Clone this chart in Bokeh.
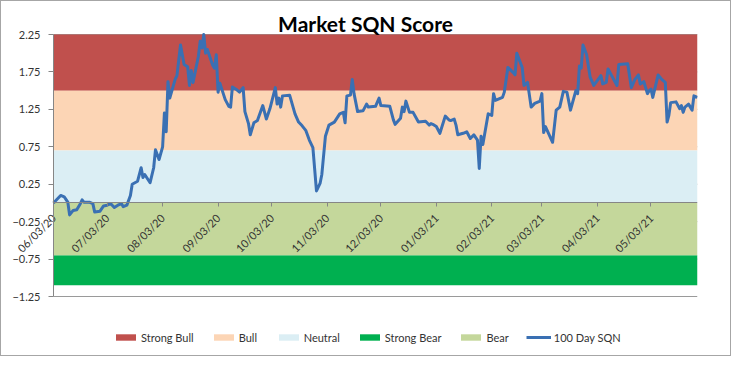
import pandas as pd
from bokeh.plotting import figure
from bokeh.layouts import column
from bokeh.models import (Range1d, FixedTicker, DatetimeTickFormatter, Legend, LegendItem, Label)
from bokeh.embed import file_html
from bokeh.resources import INLINE

# ---------------- data ----------------
title_text = "Market SQN Score"
start_date = "2020-06-03"
end_date = "2021-05-29"

# days after start_date of each reading of the 100 Day SQN
day_offset = [0, 4, 6, 8, 9, 11, 13, 15, 16, 17, 20, 22, 23, 26, 28, 30, 32, 34, 36, 38,
              39, 41, 43, 44, 47, 49, 50, 51, 54, 56, 57, 59, 61, 62, 63, 64, 65, 68, 69, 71,
              73, 75, 76, 77, 78, 81, 82, 83, 84, 85, 86, 89, 90, 91, 92, 93, 96, 98, 99, 100,
              102, 104, 106, 107, 109, 110, 112, 114, 117, 119, 121, 124, 125, 126, 127, 128, 132, 135, 137, 139,
              141, 143, 145, 147, 149, 150, 152, 154, 157, 160, 162, 163, 164, 166, 167, 168, 170, 173, 175, 176,
              180, 182, 183, 188, 190, 191, 194, 195, 196, 197, 199, 201, 204, 208, 210, 211, 212, 214, 216, 219,
              221, 222, 224, 225, 226, 229, 231, 233, 235, 237, 238, 239, 240, 243, 245, 246, 247, 251, 252, 254,
              257, 258, 259, 262, 263, 265, 267, 269, 272, 273, 274, 275, 279, 281, 283, 285, 287, 289, 292, 293,
              294, 295, 296, 298, 300, 302, 306, 307, 309, 310, 312, 315, 316, 321, 322, 323, 325, 327, 328, 330,
              332, 333, 334, 335, 338, 340, 342, 343, 344, 345, 348, 350, 351, 352, 353, 355, 357, 358, 360]

sqn = [0.00, 0.10, 0.08, 0.01, -0.16, -0.10, -0.09, -0.01, 0.04, 0.01, 0.01, -0.01, -0.12, -0.11, -0.04, -0.03, -0.01, -0.06, -0.03, -0.01,
       -0.05, -0.03, 0.10, 0.25, 0.29, 0.47, 0.34, 0.38, 0.27, 0.47, 0.71, 0.58, 0.75, 1.20, 0.95, 1.62, 1.40, 1.65, 1.70, 2.11,
       1.85, 1.82, 1.57, 1.77, 1.61, 1.96, 2.16, 2.07, 2.25, 2.00, 2.05, 1.84, 1.80, 1.98, 1.48, 1.60, 1.38, 1.29, 1.28, 1.55,
       1.52, 1.48, 1.54, 1.22, 1.06, 0.91, 1.07, 1.10, 1.30, 1.12, 1.26, 1.54, 1.32, 1.40, 1.28, 1.43, 1.44, 1.19, 1.08, 1.03,
       0.97, 0.84, 0.74, 0.16, 0.26, 0.38, 0.89, 1.04, 1.08, 1.19, 1.21, 1.07, 1.43, 1.44, 1.65, 1.46, 1.22, 1.23, 1.32, 1.28,
       1.29, 1.40, 1.30, 1.29, 1.11, 1.05, 1.13, 1.28, 1.22, 1.36, 1.21, 1.21, 1.08, 1.09, 1.04, 1.06, 1.05, 1.02, 0.93, 1.16,
       1.11, 1.10, 1.12, 1.04, 0.91, 0.93, 0.95, 0.86, 0.91, 0.84, 0.46, 0.89, 0.78, 1.19, 1.17, 1.46, 1.37, 1.41, 1.48, 1.81,
       1.74, 1.71, 2.00, 1.81, 1.57, 1.61, 1.28, 1.33, 1.36, 1.46, 0.94, 1.02, 0.81, 1.24, 1.28, 1.49, 1.48, 1.24, 1.50, 1.46,
       1.83, 1.80, 2.11, 1.98, 1.68, 1.57, 1.70, 1.59, 1.61, 1.79, 1.70, 1.57, 1.85, 1.86, 1.70, 1.54, 1.65, 1.71, 1.59, 1.62,
       1.46, 1.50, 1.52, 1.41, 1.71, 1.65, 1.61, 1.08, 1.17, 1.34, 1.35, 1.26, 1.30, 1.21, 1.28, 1.32, 1.24, 1.43, 1.41]

band_names = ["Strong Bull", "Bull", "Neutral", "Strong Bear", "Bear"]
band_low = [1.5, 0.7, 0.0, -1.1, -0.7]
band_high = [2.25, 1.5, 0.7, -0.7, 0.0]
line_name = "100 Day SQN"

tick_labels = ["06/03/20", "07/03/20", "08/03/20", "09/03/20", "10/03/20", "11/03/20",
               "12/03/20", "01/03/21", "02/03/21", "03/03/21", "04/03/21", "05/03/21"]
y_ticks = [-1.25, -0.75, -0.25, 0.25, 0.75, 1.25, 1.75, 2.25]
y_min, y_max = -1.25, 2.25

# ---------------- styles / layout ----------------
band_colors = ["#C0504D", "#FCD5B5", "#DBEEF4", "#00B050", "#C4D79B"]
line_color = "#3A70B3"
axis_color = "#868686"
font = "Lato"

W, H_MAIN, H_LEG = 729, 310, 44
BORDER_RIGHT = 33
FRAME_W = W - BORDER_RIGHT
PLOT_LEFT_PX = 52             # where the plot area starts inside the frame
PLOT_TOP_PX, PLOT_BOTTOM_PX = 33, 15

start = pd.Timestamp(start_date)
end = pd.Timestamp(end_date)
dates = [start + pd.Timedelta(days=d) for d in day_offset]
x_edges = [start, end]
tick_ms = [pd.to_datetime(t, format="%m/%d/%y").value // 10**6 for t in tick_labels]
start_ms, end_ms = start.value // 10**6, end.value // 10**6

span_ms = end_ms - start_ms
x_lo = start_ms - PLOT_LEFT_PX * span_ms / (FRAME_W - PLOT_LEFT_PX)
u_per_px = (y_max - y_min) / (H_MAIN - PLOT_TOP_PX - PLOT_BOTTOM_PX)
y_lo = y_min - PLOT_BOTTOM_PX * u_per_px
y_hi = y_max + PLOT_TOP_PX * u_per_px

p = figure(width=W, height=H_MAIN, x_axis_type="datetime",
           x_range=Range1d(x_lo, end_ms), y_range=Range1d(y_lo, y_hi),
           output_backend="svg", toolbar_location=None,
           min_border_left=0, min_border_right=BORDER_RIGHT, min_border_top=0, min_border_bottom=0)
p.outline_line_color = None
p.background_fill_color = "white"
p.border_fill_color = "white"

# horizontal gridlines across the plot area (mostly hidden behind the bands)
p.segment(x0=[start] * len(y_ticks), x1=[end] * len(y_ticks), y0=y_ticks, y1=y_ticks,
          line_color="#9a9a9a", line_width=1)

for lo, hi, col in zip(band_low, band_high, band_colors):
    p.varea(x=x_edges, y1=[lo, lo], y2=[hi, hi], fill_color=col)

p.line(dates, sqn, line_color=line_color, line_width=3, line_join="round")

# x axis crossing at y = 0
xa = p.xaxis[0]
xa.fixed_location = 0
xa.bounds = (start_ms, end_ms)
xa.ticker = FixedTicker(ticks=tick_ms)
fmt = "%m/%d/%y"
xa.formatter = DatetimeTickFormatter(days=fmt, months=fmt, years=fmt, hours=fmt,
                                     minutes=fmt, seconds=fmt, milliseconds=fmt, minsec=fmt, hourmin=fmt)
xa.major_label_orientation = 0.785
xa.axis_line_color = axis_color
xa.major_tick_line_color = axis_color
xa.major_tick_out = 4
xa.major_tick_in = 0
xa.minor_tick_line_color = None
xa.major_label_text_font = font
xa.major_label_text_font_size = "11px"
xa.major_label_text_color = "#333333"
xa.major_label_standoff = 9

# y axis at the start of the series
ya = p.yaxis[0]
ya.fixed_location = start_ms
ya.bounds = (y_min, y_max)
ya.ticker = FixedTicker(ticks=y_ticks)
ya.axis_line_color = axis_color
ya.major_tick_line_color = axis_color
ya.major_tick_out = 5
ya.major_tick_in = 0
ya.minor_tick_line_color = None
ya.major_label_text_font = font
ya.major_label_text_font_size = "11px"
ya.major_label_text_color = "#333333"
ya.major_label_standoff = 8

p.grid.visible = False

title = Label(x=364, y=H_MAIN - 22, x_units="screen", y_units="screen", text=title_text,
              text_align="center", text_baseline="middle", text_font=font,
              text_font_size="21px", text_font_style="bold", text_color="black")
p.add_layout(title)

# legend strip below the chart; its renderers hold the same data but lie outside its view
leg = figure(width=W, height=H_LEG, output_backend="svg", toolbar_location=None,
             x_range=Range1d(0, 1), y_range=Range1d(0, 1),
             min_border_left=0, min_border_right=BORDER_RIGHT, min_border_top=0, min_border_bottom=0)
leg.axis.visible = False
leg.grid.visible = False
leg.outline_line_color = None
leg.background_fill_color = "white"
leg.border_fill_color = "white"
items = []
for name, lo, hi, col in zip(band_names, band_low, band_high, band_colors):
    r = leg.varea(x=x_edges, y1=[lo, lo], y2=[hi, hi], fill_color=col)
    items.append(LegendItem(label=name, renderers=[r]))
r = leg.line(dates, sqn, line_color=line_color, line_width=3)
items.append(LegendItem(label=line_name, renderers=[r]))
legend = Legend(items=items, orientation="horizontal", location=(112, 11),
                glyph_width=25, glyph_height=8, label_height=14, label_standoff=3,
                spacing=17, padding=0, margin=0, border_line_color=None,
                background_fill_alpha=0, label_text_font=font, label_text_font_size="11px",
                label_text_color="#333333")
leg.add_layout(legend, "center")

layout = column(p, leg, spacing=0, styles={"border": "1px solid #a6a6a6"})

open("out.html", "w").write(file_html(layout, INLINE))
